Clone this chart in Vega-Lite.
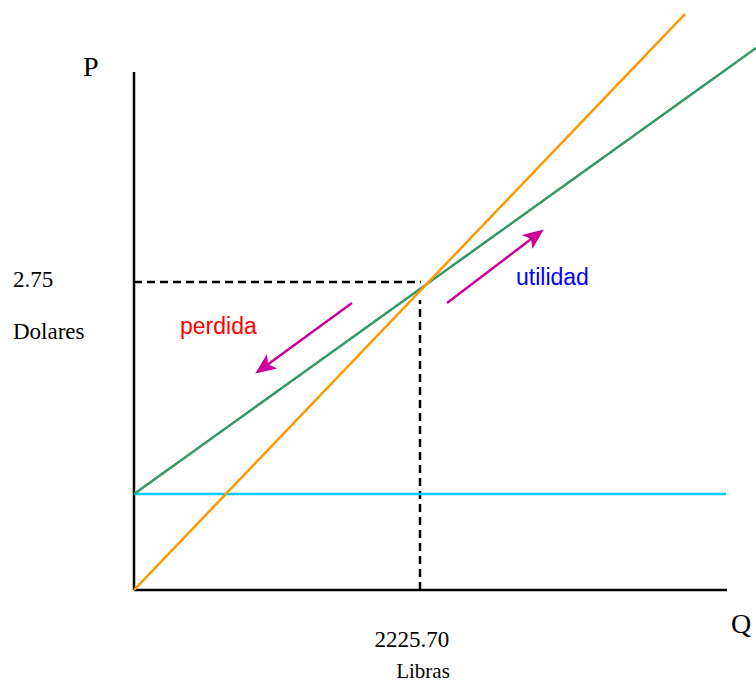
{
  "$schema": "https://vega.github.io/schema/vega-lite/v6.json",
  "width": 756,
  "height": 687,
  "autosize": {"type": "none"},
  "padding": 0,
  "background": "white",
  "config": {"view": {"stroke": null}},
  "datasets": {
    "lineas": [
      {"linea": "ejeY", "Q": 0, "P": 0},
      {"linea": "ejeY", "Q": 0, "P": 4.625},
      {"linea": "ejeX", "Q": 0, "P": 0},
      {"linea": "ejeX", "Q": 4615, "P": 0},
      {"linea": "guiaH", "Q": 0, "P": 2.75},
      {"linea": "guiaH", "Q": 2233, "P": 2.75},
      {"linea": "guiaV", "Q": 2225.7, "P": 0},
      {"linea": "guiaV", "Q": 2225.7, "P": 2.59},
      {"linea": "costoFijo", "Q": 0, "P": 0.857},
      {"linea": "costoFijo", "Q": 4607, "P": 0.857},
      {"linea": "costoTotal", "Q": 0, "P": 0.857},
      {"linea": "costoTotal", "Q": 4840.5, "P": 4.839},
      {"linea": "ingreso", "Q": 0, "P": 0},
      {"linea": "ingreso", "Q": 4288, "P": 5.143},
      {"linea": "flechaPerdida", "Q": 1696.5, "P": 2.5625},
      {"linea": "flechaPerdida", "Q": 1012.4, "P": 1.99},
      {"linea": "flechaUtilidad", "Q": 2435.8, "P": 2.5625},
      {"linea": "flechaUtilidad", "Q": 3120.6, "P": 3.16}
    ],
    "puntaPerdida": [{"Q": 1012.4, "P": 1.99}],
    "puntaUtilidad": [{"Q": 3120.6, "P": 3.16}],
    "ejes": [
      {"texto": "P", "Q": -396.9, "P": 4.589},
      {"texto": "Q", "Q": 4646, "P": -0.384}
    ],
    "etiquetasIzq": [
      {"texto": "2.75", "Q": -941.6, "P": 2.705},
      {"texto": "Dolares", "Q": -941.6, "P": 2.241}
    ],
    "etiquetasCentro": [
      {"texto": "2225.70", "Q": 2163.4, "P": -0.509}
    ],
    "libras": [
      {"texto": "Libras", "Q": 2249, "P": -0.786}
    ],
    "perdida": [
      {"texto": "perdida", "Q": 358, "P": 2.286}
    ],
    "utilidad": [
      {"texto": "utilidad", "Q": 2972.8, "P": 2.723}
    ]
  },
  "encoding": {
    "x": {"field": "Q", "type": "quantitative", "scale": {"domain": [-1042.8, 4840.5], "nice": false, "zero": false}, "axis": null},
    "y": {"field": "P", "type": "quantitative", "scale": {"domain": [-0.866, 5.268], "nice": false, "zero": false}, "axis": null}
  },
  "layer": [
    {
      "data": {"name": "lineas"},
      "mark": {"type": "line", "strokeCap": "butt", "clip": false},
      "encoding": {
        "detail": {"field": "linea", "type": "nominal"},
        "color": {
          "field": "linea", "type": "nominal", "legend": null,
          "scale": {
            "domain": ["ejeY", "ejeX", "guiaH", "guiaV", "costoFijo", "costoTotal", "ingreso", "flechaPerdida", "flechaUtilidad"],
            "range": ["#000000", "#000000", "#000000", "#000000", "#00CCFF", "#339966", "#FF9900", "#CC0099", "#CC0099"]
          }
        },
        "strokeDash": {
          "field": "linea", "type": "nominal", "legend": null,
          "scale": {
            "domain": ["ejeY", "ejeX", "guiaH", "guiaV", "costoFijo", "costoTotal", "ingreso", "flechaPerdida", "flechaUtilidad"],
            "range": [[1, 0], [1, 0], [8, 5], [8, 5], [1, 0], [1, 0], [1, 0], [1, 0], [1, 0]]
          }
        },
        "strokeWidth": {
          "field": "linea", "type": "nominal", "legend": null,
          "scale": {
            "domain": ["ejeY", "ejeX", "guiaH", "guiaV", "costoFijo", "costoTotal", "ingreso", "flechaPerdida", "flechaUtilidad"],
            "range": [2.5, 2.5, 2.2, 2.2, 2, 2, 2, 2.2, 2.2]
          }
        }
      }
    },
    {
      "data": {"name": "puntaPerdida"},
      "mark": {"type": "point", "shape": "M0,-1L0.8,0.9L0,0.45L-0.8,0.9Z", "filled": true, "color": "#CC0099", "opacity": 1, "size": 480, "angle": 234, "strokeWidth": 0}
    },
    {
      "data": {"name": "puntaUtilidad"},
      "mark": {"type": "point", "shape": "M0,-1L0.8,0.9L0,0.45L-0.8,0.9Z", "filled": true, "color": "#CC0099", "opacity": 1, "size": 480, "angle": 52.7, "strokeWidth": 0}
    },
    {
      "data": {"name": "ejes"},
      "mark": {"type": "text", "font": "Liberation Serif", "fontSize": 28, "align": "left", "baseline": "alphabetic", "color": "#000000"},
      "encoding": {"text": {"field": "texto"}}
    },
    {
      "data": {"name": "etiquetasIzq"},
      "mark": {"type": "text", "font": "Liberation Serif", "fontSize": 23, "align": "left", "baseline": "alphabetic", "color": "#000000"},
      "encoding": {"text": {"field": "texto"}}
    },
    {
      "data": {"name": "etiquetasCentro"},
      "mark": {"type": "text", "font": "Liberation Serif", "fontSize": 23, "align": "center", "baseline": "alphabetic", "color": "#000000"},
      "encoding": {"text": {"field": "texto"}}
    },
    {
      "data": {"name": "libras"},
      "mark": {"type": "text", "font": "Liberation Serif", "fontSize": 21, "align": "center", "baseline": "alphabetic", "color": "#000000"},
      "encoding": {"text": {"field": "texto"}}
    },
    {
      "data": {"name": "perdida"},
      "mark": {"type": "text", "font": "Liberation Sans", "fontSize": 23, "align": "left", "baseline": "alphabetic", "color": "#FF0000"},
      "encoding": {"text": {"field": "texto"}}
    },
    {
      "data": {"name": "utilidad"},
      "mark": {"type": "text", "font": "Liberation Sans", "fontSize": 23, "align": "left", "baseline": "alphabetic", "color": "#0000FF"},
      "encoding": {"text": {"field": "texto"}}
    }
  ]
}
